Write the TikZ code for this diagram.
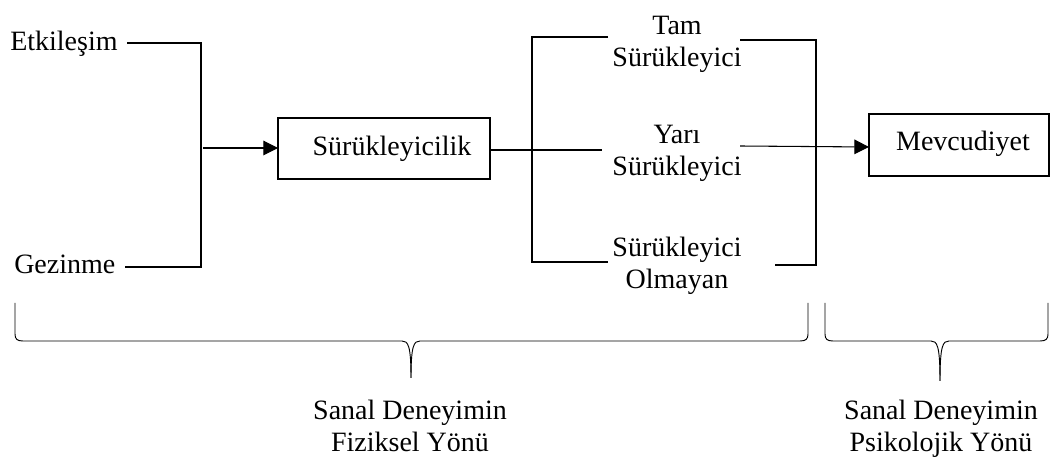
\documentclass[tikz,border=0pt]{standalone}
\usepackage{fontspec}
\setmainfont{Liberation Serif}
\usetikzlibrary{arrows.meta}
\begin{document}
\begin{tikzpicture}[x=0.75pt,y=-0.75pt,
  lbl/.style={inner sep=0pt,font=\fontsize{21}{24}\selectfont,align=center},
  ml/.style={lbl,anchor=north},
  box/.style={draw,line width=0.8pt,minimum height=0pt},
  ln/.style={line width=0.8pt},
  br/.style={line width=0.7pt},
  arr/.style={ln,-{Triangle[length=11pt,width=11pt]}}]
\useasboundingbox (0,0) rectangle (1051,459);
% left inputs
\node[lbl,anchor=base west] (etk) at (10,51) {Etkileşim};
\node[lbl,anchor=base west] (gez) at (14,274) {Gezinme};
\coordinate (e1) at (127,43);
\coordinate (g1) at (125,267);
\coordinate (j1) at (201,43);
\coordinate (j2) at (201,267);
\coordinate (jm) at (203,148);
\draw[ln] (e1) -- (j1) -- (j2) -- (g1);
% Surukleyicilik box
\path[box] (278,118) rectangle (490,179);
\node[lbl,anchor=base] (sur) at (392,156) {Sürükleyicilik};
\coordinate (surR) at (490,150);
\coordinate (surL) at (278,148);
\draw[arr] (jm) -- (surL);
% middle texts
\node[ml] (tam) at (677,11.5) {\strut Tam\\Sürükleyici};
\node[ml] (yari) at (677,120.5) {\strut Yarı\\Sürükleyici};
\node[ml] (olm) at (677,233.5) {\strut Sürükleyici\\Olmayan};
% left bracket
\coordinate (lb1) at (608,37);
\coordinate (lb2) at (532,37);
\coordinate (lb3) at (532,262);
\coordinate (lb4) at (608,262);
\draw[ln] (lb1) -- (lb2) -- (lb3) -- (lb4);
\coordinate (ym) at (602,150);
\draw[ln] (surR) -- (ym);
% right bracket
\coordinate (rb1) at (740,40);
\coordinate (rb2) at (816,40);
\coordinate (rb3) at (816,265);
\coordinate (rb4) at (775,265);
\draw[ln] (rb1) -- (rb2) -- (rb3) -- (rb4);
% Mevcudiyet box
\path[box] (869,114) rectangle (1049,176);
\node[lbl,anchor=base] (mev) at (963,151) {Mevcudiyet};
\coordinate (mevL) at (869,147);
\coordinate (ys) at (740,146);
\draw[arr] (ys) -- (mevL);
% braces
\draw[br] (15,303) -- (15,334) .. controls (15,339) and (17,341) .. (23,341)
  -- (402,341) .. controls (408,341) and (411,345) .. (411,378);
\draw[br] (808,303) -- (808,334) .. controls (808,339) and (806,341) .. (800,341)
  -- (420,341) .. controls (414,341) and (411,345) .. (411,378);
\draw[br] (825,303) -- (825,334) .. controls (825,339) and (827,341) .. (833,341)
  -- (931,341) .. controls (937,341) and (940,345) .. (940,381);
\draw[br] (1048,303) -- (1048,334) .. controls (1048,339) and (1046,341) .. (1040,341)
  -- (949,341) .. controls (943,341) and (940,345) .. (940,381);
\node[ml] (fiz) at (410,397) {\strut Sanal Deneyimin\\Fiziksel Yönü};
\node[ml] (psi) at (941,397) {\strut Sanal Deneyimin\\Psikolojik Yönü};
\end{tikzpicture}
\end{document}
